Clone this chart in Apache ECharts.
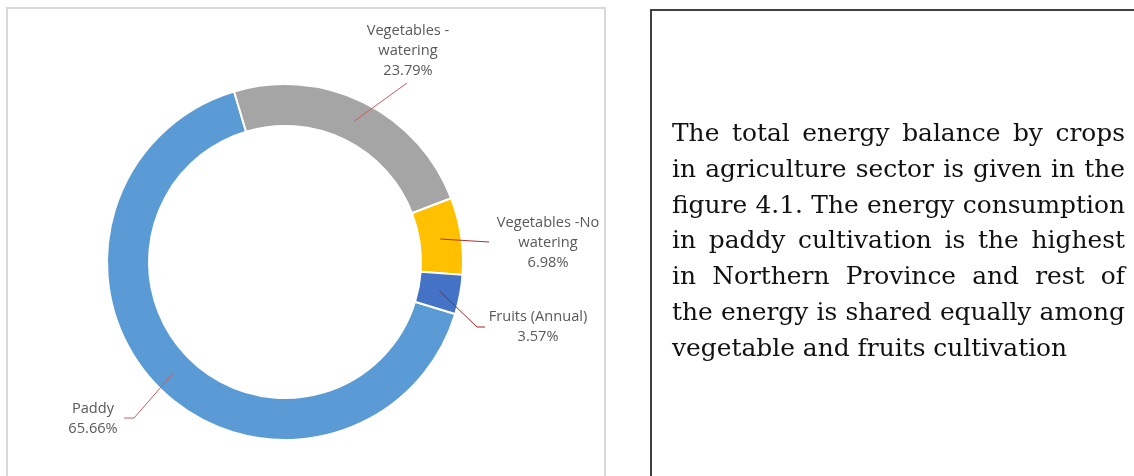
<!DOCTYPE html>
<html>
<head>
<meta charset="utf-8">
<script src="https://cdn.jsdelivr.net/npm/echarts@6/dist/echarts.min.js"></script>
<style>
  html, body { margin: 0; padding: 0; background: #fff; }
  body { width: 1134px; height: 476px; position: relative; overflow: hidden; }
  #chart { position: absolute; left: 0; top: 0; width: 1134px; height: 476px; }
  #frame { position: absolute; left: 6px; top: 7px; width: 596px; height: 480px;
           border: 2px solid #d9d9d9; box-sizing: content-box; pointer-events: none; }
  #textbox { position: absolute; left: 650px; top: 9px; width: 500px; height: 480px;
             border: 2px solid #404040; pointer-events: none; }
  #para { position: absolute; left: 672px; top: 115px; width: 453px;
          font-family: "DejaVu Serif", serif; font-size: 24.9px; line-height: 35.8px; color: #111; }
  #para div { text-align: justify; text-align-last: justify; white-space: nowrap; }
  #para div.last { text-align: left; text-align-last: left; }
</style>
</head>
<body>
<div id="frame"></div>
<div id="textbox"></div>
<div id="chart"></div>
<div id="para"></div>
<script>
// ---- data ----
const categories = ["Paddy", "Vegetables - watering", "Vegetables -No watering", "Fruits (Annual)"];
const shares = [65.66, 23.79, 6.98, 3.57];
const colors = ["#5B9BD5", "#A5A5A5", "#FFC000", "#4472C4"];
const paragraphLines = [
  "The total energy balance by crops",
  "in agriculture sector is given in the",
  "figure 4.1. The energy consumption",
  "in paddy cultivation is the highest",
  "in Northern Province and rest of",
  "the energy is shared equally among",
  "vegetable and fruits cultivation"
];

// ---- layout (not data) ----
const CX = 285, CY = 262, R_IN = 136, R_OUT = 178, START = -17;
// label centre and leader-line elbow/end per slice
const labelSpots = [
  { x: 93,  y: 419, elbow: [134, 418], end: [124, 418] },
  { x: 408, y: 51,  elbow: [407, 83],  end: [407, 83] },
  { x: 548, y: 243, elbow: [489, 242], end: [489, 242] },
  { x: 538, y: 327, elbow: [477, 327], end: [485, 327] }
];
const lineColors = ["#D05A58", "#D05A58", "#B03030", "#A52020"];

// paragraph
const para = document.getElementById('para');
paragraphLines.forEach((t, i) => {
  const d = document.createElement('div');
  d.textContent = t;
  if (i === paragraphLines.length - 1) d.className = 'last';
  para.appendChild(d);
});

const total = shares.reduce((a, b) => a + b, 0);
function midPoint(idx, r) {
  let cum = 0;
  for (let i = 0; i < idx; i++) cum += shares[i];
  const frac = (cum + shares[idx] / 2) / total;
  const th = (-START) * Math.PI / 180 + frac * 2 * Math.PI;
  return [CX + r * Math.cos(th), CY + r * Math.sin(th)];
}

const baseSeries = {
  type: 'pie',
  center: [CX, CY],
  radius: [R_IN, R_OUT],
  startAngle: START,
  clockwise: true,
  avoidLabelOverlap: false,
  percentPrecision: 2,
  emphasis: { disabled: true },
  silent: true
};

const chart = echarts.init(document.getElementById('chart'), null, { renderer: 'canvas' });
chart.setOption({
  animation: false,
  series: [
    Object.assign({}, baseSeries, {
      data: categories.map((c, i) => ({ name: c, value: shares[i], itemStyle: { color: colors[i] } })),
      itemStyle: { borderColor: '#ffffff', borderWidth: 2 },
      label: { show: false },
      labelLine: { show: false }
    }),
    Object.assign({}, baseSeries, {
      z: 3,
      data: categories.map((c, i) => ({ name: c, value: shares[i],
        labelLine: { lineStyle: { color: lineColors[i] } } })),
      itemStyle: { color: 'rgba(0,0,0,0)', borderWidth: 0 },
      label: {
        show: true,
        position: 'outside',
        fontFamily: '"Open Sans", sans-serif',
        fontSize: 14.6,
        lineHeight: 20,
        color: '#595959',
        align: 'center',
        formatter: p => p.name.replace(/ (watering)$/, '\n$1') + '\n' + p.value.toFixed(2) + '%'
      },
      labelLine: {
        show: true,
        length: 10,
        length2: 10,
        smooth: false,
        lineStyle: { width: 1 }
      },
      labelLayout: function (params) {
        const i = params.dataIndex;
        const s = labelSpots[i];
        const p0 = midPoint(i, (R_IN + R_OUT) / 2);
        return {
          x: s.x, y: s.y,
          align: 'center', verticalAlign: 'middle',
          labelLinePoints: [p0, s.elbow, s.end]
        };
      }
    })
  ]
});
</script>
</body>
</html>
